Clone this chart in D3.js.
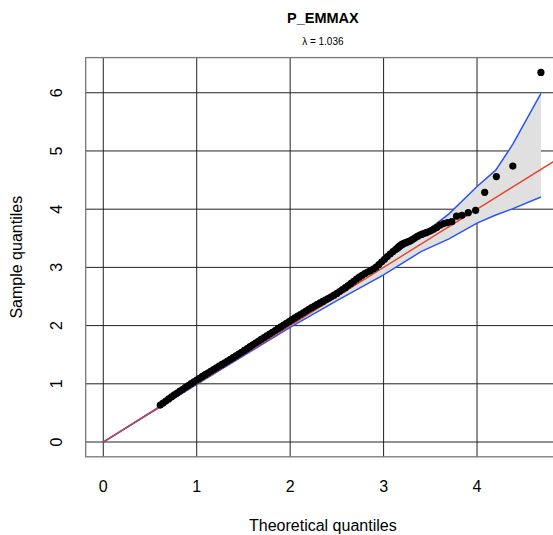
<!DOCTYPE html>
<html lang="en">
<head>
<meta charset="UTF-8" />
<title>P_EMMAX QQ plot</title>
<script src="https://d3js.org/d3.v7.min.js"></script>
<style>
    body { margin: 0; background: #fff; }
    svg { display: block; font-family: "Liberation Sans", Arial, sans-serif; }
    .grid { stroke: #222; stroke-width: 1; }
    .frame { fill: none; stroke: #777; stroke-width: 1.3; }
    .tick-label { font-size: 16px; fill: #000; text-anchor: middle; }
</style>
</head>
<body>
<svg width="553" height="535"></svg>
<script>
    const theoretical = [
        0.61, 0.64, 0.67, 0.70, 0.73, 0.76, 0.79, 0.82, 0.85, 0.88, 0.91, 0.94, 0.97, 1.00,
        1.03, 1.06, 1.09, 1.12, 1.15, 1.18, 1.21, 1.24, 1.27, 1.30, 1.33, 1.36, 1.39, 1.42,
        1.45, 1.48, 1.51, 1.54, 1.57, 1.60, 1.63, 1.66, 1.69, 1.72, 1.75, 1.78, 1.81, 1.84,
        1.87, 1.90, 1.93, 1.96, 1.99, 2.02, 2.05, 2.08, 2.11, 2.14, 2.17, 2.20, 2.23, 2.26,
        2.29, 2.32, 2.35, 2.38, 2.41, 2.44, 2.47, 2.50, 2.53, 2.56, 2.59, 2.62, 2.65, 2.68,
        2.71, 2.74, 2.77, 2.80, 2.83, 2.86, 2.89, 2.92, 2.95, 2.98, 3.01, 3.04, 3.07, 3.10,
        3.13, 3.150, 3.163, 3.177, 3.191, 3.205, 3.220, 3.236, 3.252, 3.268, 3.285, 3.303,
        3.322, 3.341, 3.362, 3.383, 3.405, 3.429, 3.454, 3.480, 3.508, 3.538, 3.571, 3.605,
        3.643, 3.684, 3.730, 3.781, 3.839, 3.906, 3.985, 4.082, 4.207, 4.383, 4.684
    ];
    const sample = [
        0.635, 0.670, 0.705, 0.740, 0.775, 0.810, 0.840, 0.875, 0.905, 0.940, 0.970, 1.002, 1.035, 1.065,
        1.095, 1.126, 1.156, 1.186, 1.215, 1.245, 1.274, 1.304, 1.333, 1.362, 1.392, 1.421, 1.451, 1.480,
        1.510, 1.542, 1.574, 1.606, 1.638, 1.669, 1.700, 1.731, 1.762, 1.793, 1.824, 1.855, 1.885, 1.916,
        1.947, 1.978, 2.009, 2.040, 2.070, 2.101, 2.132, 2.162, 2.191, 2.220, 2.250, 2.279, 2.308, 2.336,
        2.363, 2.390, 2.416, 2.442, 2.468, 2.494, 2.522, 2.552, 2.585, 2.618, 2.652, 2.688, 2.725, 2.762,
        2.798, 2.832, 2.864, 2.893, 2.921, 2.945, 2.972, 3.005, 3.050, 3.095, 3.140, 3.185, 3.230, 3.272,
        3.310, 3.335, 3.355, 3.373, 3.390, 3.403, 3.414, 3.424, 3.434, 3.444, 3.457, 3.473,
        3.492, 3.512, 3.532, 3.550, 3.566, 3.581, 3.596, 3.612, 3.633, 3.658, 3.689, 3.725,
        3.753, 3.769, 3.785, 3.880, 3.895, 3.940, 3.980, 4.290, 4.560, 4.740, 6.350
    ];

    // 95% band around the diagonal
    const bandX = [0, 1, 2, 2.5, 3, 3.4, 3.7, 4.0, 4.2, 4.385, 4.684];
    const bandUpper = [0, 1.01, 2.04, 2.56, 3.11, 3.55, 3.92, 4.39, 4.67, 5.12, 5.99];
    const bandLower = [0, 0.99, 1.97, 2.43, 2.87, 3.27, 3.49, 3.76, 3.90, 4.01, 4.21];

    const xTicks = [0, 1, 2, 3, 4];
    const yTicks = [0, 1, 2, 3, 4, 5, 6];

    const title = "P_EMMAX";
    const lambda = "1.036";

    const svg = d3.select("svg");
    const pLeft = 85.7, pRight = 560, pTop = 57.6, pBottom = 456.8;

    const x = d3.scaleLinear().domain([-0.188, 4.888]).range([pLeft, pRight]);
    const y = d3.scaleLinear().domain([-0.254, 6.604]).range([pBottom, pTop]);

    svg.append("clipPath").attr("id", "plotClip")
        .append("rect")
        .attr("x", pLeft).attr("y", pTop)
        .attr("width", pRight - pLeft).attr("height", pBottom - pTop);

    // grid
    svg.append("g").selectAll("line")
        .data(xTicks)
        .join("line")
        .attr("class", "grid")
        .attr("x1", d => x(d)).attr("x2", d => x(d))
        .attr("y1", pTop).attr("y2", pBottom);

    svg.append("g").selectAll("line")
        .data(yTicks)
        .join("line")
        .attr("class", "grid")
        .attr("x1", pLeft).attr("x2", pRight)
        .attr("y1", d => y(d)).attr("y2", d => y(d));

    const plot = svg.append("g").attr("clip-path", "url(#plotClip)");

    const band = bandX.map((v, i) => ({ x: v, lo: bandLower[i], hi: bandUpper[i] }));

    plot.append("path")
        .datum(band)
        .attr("fill", "#e0e0e0")
        .attr("d", d3.area().x(d => x(d.x)).y0(d => y(d.lo)).y1(d => y(d.hi)));

    ["hi", "lo"].forEach(k => {
        plot.append("path")
            .datum(band)
            .attr("fill", "none")
            .attr("stroke", "#2a55f5")
            .attr("stroke-width", 1.5)
            .attr("d", d3.line().x(d => x(d.x)).y(d => y(d[k])));
    });

    // y = x reference
    plot.append("line")
        .attr("x1", x(0)).attr("y1", y(0))
        .attr("x2", x(6)).attr("y2", y(6))
        .attr("stroke", "#e8432e")
        .attr("stroke-width", 1.4);

    plot.append("g").selectAll("circle")
        .data(theoretical.map((v, i) => [v, sample[i]]))
        .join("circle")
        .attr("cx", d => x(d[0]))
        .attr("cy", d => y(d[1]))
        .attr("r", 3.6)
        .attr("fill", "#000");

    svg.append("rect")
        .attr("class", "frame")
        .attr("x", pLeft).attr("y", pTop)
        .attr("width", pRight - pLeft).attr("height", pBottom - pTop);

    // axis labels
    svg.append("g").selectAll("text")
        .data(xTicks)
        .join("text")
        .attr("class", "tick-label")
        .attr("x", d => x(d))
        .attr("y", 492)
        .text(d => d);

    svg.append("g").selectAll("text")
        .data(yTicks)
        .join("text")
        .attr("class", "tick-label")
        .attr("transform", d => `translate(62,${y(d)}) rotate(-90)`)
        .text(d => d);

    const cx = (pLeft + pRight) / 2;

    svg.append("text")
        .attr("x", cx).attr("y", 531)
        .attr("text-anchor", "middle")
        .style("font-size", "16px")
        .text("Theoretical quantiles");

    svg.append("text")
        .attr("transform", `translate(22,${(pTop + pBottom) / 2}) rotate(-90)`)
        .attr("text-anchor", "middle")
        .style("font-size", "16px")
        .text("Sample quantiles");

    svg.append("text")
        .attr("x", cx).attr("y", 23)
        .attr("text-anchor", "middle")
        .style("font-size", "14.5px")
        .style("font-weight", "bold")
        .text(title);

    svg.append("text")
        .attr("x", cx).attr("y", 45)
        .attr("text-anchor", "middle")
        .style("font-size", "10px")
        .text(`λ = ${lambda}`);
</script>
</body>
</html>
